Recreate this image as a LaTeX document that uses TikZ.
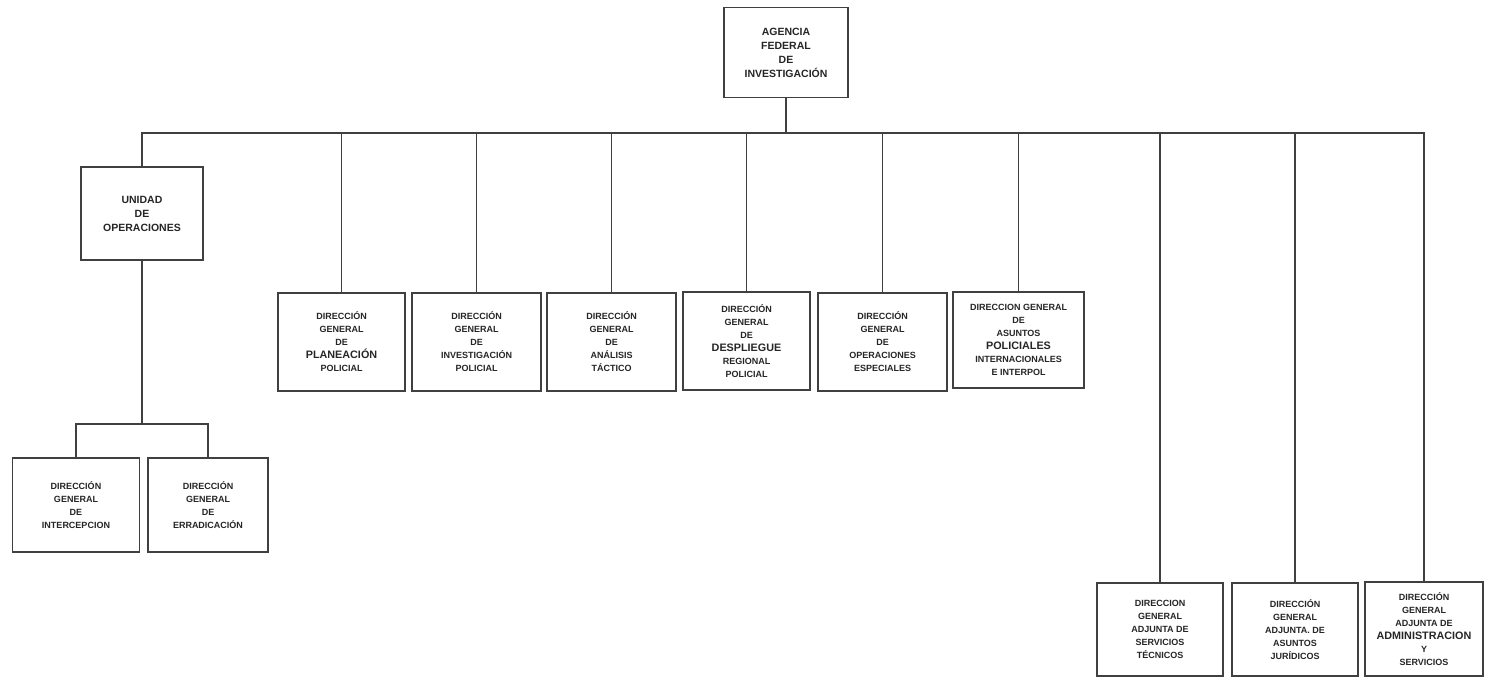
\documentclass[tikz,border=0pt]{standalone}
\usepackage{fontspec}
\setmainfont{Liberation Sans}
\newcommand{\bigw}[1]{{\fontsize{10.8}{13}\selectfont #1}}
\begin{document}
\begin{tikzpicture}[x=1pt,y=-1pt,
  box/.style={draw=black!75, line width=1.6pt, fill=white, align=center,
    inner sep=1pt, text=black!85,
    font=\fontsize{9}{13}\selectfont\bfseries},
  topbox/.style={box, font=\fontsize{10.5}{14}\selectfont\bfseries},
  conn/.style={draw=black!75, line width=1.5pt}]
\useasboundingbox[fill=white] (0,0) rectangle (1485,679);

\node[topbox, minimum width=124, minimum height=90] (afi) at (786,52.5)
  {AGENCIA\\FEDERAL\\DE\\INVESTIGACIÓN};
\node[topbox, minimum width=122, minimum height=93] (uni) at (142,213.5)
  {UNIDAD\\DE\\OPERACIONES};
\node[box, minimum width=127, minimum height=94] (inter) at (76,505)
  {DIRECCIÓN\\GENERAL\\DE\\INTERCEPCION};
\node[box, minimum width=120, minimum height=94] (erra) at (208,505)
  {DIRECCIÓN\\GENERAL\\DE\\ERRADICACIÓN};

\node[box, minimum width=127, minimum height=98] (plan) at (341.5,342)
  {DIRECCIÓN\\GENERAL\\DE\\\bigw{PLANEACIÓN}\\POLICIAL};
\node[box, minimum width=129, minimum height=98] (inv) at (476.5,342)
  {DIRECCIÓN\\GENERAL\\DE\\INVESTIGACIÓN\\POLICIAL};
\node[box, minimum width=129, minimum height=98] (ana) at (611.5,342)
  {DIRECCIÓN\\GENERAL\\DE\\ANÁLISIS\\TÁCTICO};
\node[box, minimum width=127, minimum height=98] (des) at (746.5,341)
  {DIRECCIÓN\\GENERAL\\DE\\\bigw{DESPLIEGUE}\\REGIONAL\\POLICIAL};
\node[box, minimum width=129, minimum height=98] (ope) at (882.5,342)
  {DIRECCIÓN\\GENERAL\\DE\\OPERACIONES\\ESPECIALES};
\node[box, minimum width=131, minimum height=96] (asu) at (1018.5,340)
  {DIRECCION GENERAL\\DE\\ASUNTOS\\\bigw{POLICIALES}\\INTERNACIONALES\\E INTERPOL};

\node[box, minimum width=126, minimum height=93] (tec) at (1160,629.5)
  {DIRECCION\\GENERAL\\ADJUNTA DE\\SERVICIOS\\TÉCNICOS};
\node[box, minimum width=126, minimum height=93] (jur) at (1295,629.5)
  {DIRECCIÓN\\GENERAL\\ADJUNTA. DE\\ASUNTOS\\JURÍDICOS};
\node[box, minimum width=118, minimum height=94] (adm) at (1424,629)
  {DIRECCIÓN\\GENERAL\\ADJUNTA DE\\\bigw{ADMINISTRACION}\\Y\\SERVICIOS};

\coordinate (bus) at (0,133);
\coordinate (bus2) at (0,424);

\draw[conn] (afi.south) -- (afi.south |- bus);
\draw[conn] (uni.north) |- (bus -| adm.north) -- (adm.north);
\foreach \n in {plan,inv,ana,des,ope,asu,tec,jur}
  \draw[conn] (\n.north) -- (\n.north |- bus);
\draw[conn] (uni.south) -- (uni.south |- bus2);
\draw[conn] (inter.north) |- (bus2 -| erra.north) -- (erra.north);
\end{tikzpicture}
\end{document}
